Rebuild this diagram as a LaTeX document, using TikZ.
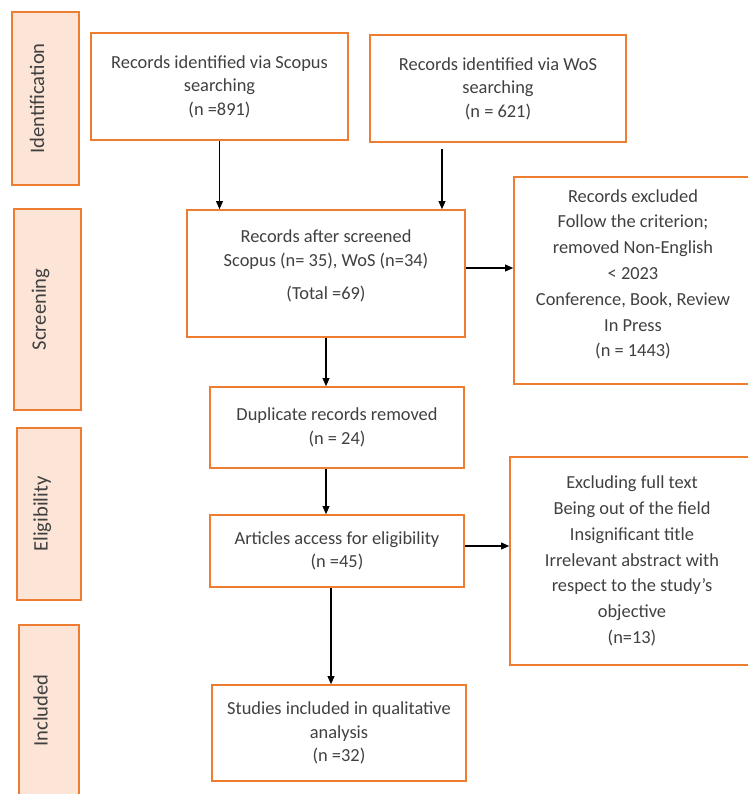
\documentclass[tikz,border=0pt]{standalone}
\usepackage{fontspec}
\setmainfont{Carlito}
\usepackage{tikz}
\usetikzlibrary{arrows.meta,positioning}
\definecolor{boxorange}{HTML}{ED7D31}
\definecolor{stagefill}{HTML}{FCE4D6}
\definecolor{txtgray}{HTML}{404040}

\begin{document}
\begin{tikzpicture}[
    x=0.5pt, y=-0.5pt,
    box/.style={draw=boxorange, line width=0.8pt, align=center, text=txtgray,
                inner sep=0pt, font=\fontsize{9.2}{11.8}\selectfont},
    wide/.style={font=\fontsize{9.2}{12.9}\selectfont},
    stage/.style={draw=boxorange, line width=0.8pt, fill=stagefill, rotate=90,
                  inner sep=0pt, text=txtgray, text height=7pt, text depth=8.5pt,
                  font=\fontsize{10.3}{12}\selectfont},
    arr/.style={-{Triangle[length=4pt, width=3.4pt]}, line width=0.6pt}
  ]
  \useasboundingbox (0,0) rectangle (748,794);
  \clip (0,0) rectangle (748,794);

  % Stage labels
  \node[stage, minimum width=86.5pt, minimum height=33.5pt] (ident) at (45.5,98.5) {Identification};
  \node[stage, minimum width=100.5pt, minimum height=33.5pt] (screen) at (47.5,309.5) {Screening};
  \node[stage, minimum width=86pt, minimum height=32pt] (elig) at (49,514) {Eligibility};
  \node[stage, minimum width=85.5pt, minimum height=30pt] (incl) at (49,710.5) {Included};

  % Identification: sources
  \node[box, minimum width=128.5pt, minimum height=53.5pt] (scopus) at (219.5,86.5)
    {Records identified via Scopus\\searching\\(n =891)};
  \node[box, minimum width=128pt, minimum height=53.5pt] (wos) at (498,88.5)
    {Records identified via WoS\\searching\\(n = 621)};

  % Screening
  \node[box, minimum width=139pt, minimum height=63.5pt] (screened) at (326,273.5)
    {Records after screened\\Scopus (n= 35), WoS (n=34)\\[5pt](Total =69)\\[-3pt]\mbox{}};
  \node[box, wide, minimum width=119pt, minimum height=103.5pt] (excl1) at (633,280.5)
    {Records excluded\\Follow the criterion;\\removed Non-English\\< 2023\\Conference, Book, Review\\In Press\\(n = 1443)\\[-5.5pt]\mbox{}};
  \node[box, minimum width=127pt, minimum height=40.5pt] (dup) at (337,427.5)
    {Duplicate records removed\\(n = 24)};

  % Eligibility
  \node[box, minimum width=127pt, minimum height=36pt] (art) at (337,551)
    {Articles access for eligibility\\(n =45)};
  \node[box, wide, minimum width=122pt, minimum height=104pt] (excl2) at (632,561)
    {Excluding full text\\Being out of the field\\Insignificant title\\Irrelevant abstract with\\respect to the study’s\\objective\\(n=13)};

  % Included
  \node[box, minimum width=127pt, minimum height=48pt] (studies) at (339,733)
    {Studies included in qualitative\\analysis\\(n =32)};

  % Arrows
  \coordinate (wostail) at (442,149);
  \draw[arr] (scopus.south) -- (scopus.south |- screened.north);
  \draw[arr] (wostail) -- (wostail |- screened.north);
  \draw[arr] ([yshift=2.75pt]screened.east) -- ([yshift=2.75pt]screened.east -| excl1.west);
  \draw[arr] (screened.south) -- (screened.south |- dup.north);
  \draw[arr] (screened.south |- dup.south) -- (screened.south |- art.north);
  \draw[arr] ([yshift=2.5pt]art.east) -- ([yshift=2.5pt]art.east -| excl2.west);
  \draw[arr] ([xshift=-3pt]art.south) -- ([xshift=-3pt]art.south |- studies.north);
\end{tikzpicture}
\end{document}
